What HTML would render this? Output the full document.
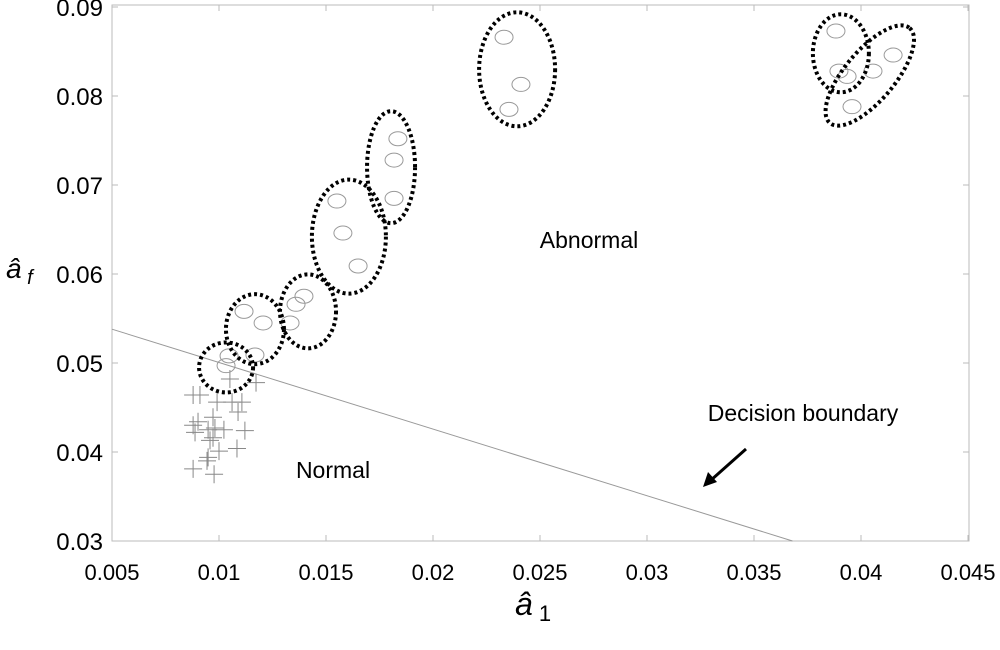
<!DOCTYPE html>
<html><head><meta charset="utf-8"><style>
body{margin:0;background:#fff}
svg{display:block}
text{font-family:"Liberation Sans",sans-serif}
</style></head><body>
<svg id="c" width="1000" height="650"></svg>
<script>
const xTicks=[0.005,0.01,0.015,0.02,0.025,0.03,0.035,0.04,0.045];
const xTickLabels=["0.005","0.01","0.015","0.02","0.025","0.03","0.035","0.04","0.045"];
const yTicks=[0.03,0.04,0.05,0.06,0.07,0.08,0.09];
const yTickLabels=["0.03","0.04","0.05","0.06","0.07","0.08","0.09"];
const normalX=[0.00879,0.00911,0.00991,0.01061,0.01107,0.01089,0.00972,0.00879,0.00902,0.00949,0.00981,0.01023,0.01121,0.00888,0.00958,0.00972,0.01084,0.01000,0.00949,0.00944,0.00879,0.00977,0.01051,0.01173];
const normalY=[0.0464,0.0464,0.0456,0.0456,0.0456,0.0445,0.0439,0.0430,0.0434,0.0425,0.0427,0.0425,0.0424,0.0422,0.0413,0.0416,0.0404,0.0401,0.0394,0.0390,0.0381,0.0375,0.0482,0.0478];
const abnormalX=[0.01047,0.01033,0.01117,0.01206,0.01168,0.01332,0.0136,0.01397,0.01551,0.01579,0.0165,0.01836,0.01818,0.01818,0.02332,0.02411,0.02355,0.03883,0.03897,0.03935,0.04056,0.0415,0.03958];
const abnormalY=[0.0508,0.0497,0.0558,0.0545,0.0509,0.0545,0.0566,0.0575,0.0682,0.0646,0.0609,0.0752,0.0728,0.0685,0.0866,0.0813,0.0785,0.0873,0.0828,0.0822,0.0828,0.0846,0.0788];
const groupX=[0.01033,0.01168,0.01416,0.01607,0.01804,0.02393,0.03906,0.04041];
const groupY=[0.0495,0.0538,0.0558,0.0642,0.0720,0.0830,0.0848,0.0823];
const groupRx=[27,29,28,37,24,38,28,62];
const groupRy=[25,35,37,57,56,57,39,25];
const groupRot=[0,0,0,0,0,0,0,-50];
const boundaryX=[0.005,0.0368];
const boundaryY=[0.0538,0.03];

const NS="http://www.w3.org/2000/svg",svg=document.getElementById('c');
const sx=v=>112+(v-0.005)/0.005*107;
const sy=v=>541-(v-0.03)/0.01*89;
function el(t,a,p){const e=document.createElementNS(NS,t);for(const k in a)e.setAttribute(k,a[k]);(p||svg).appendChild(e);return e;}
const frame=el('rect',{x:112,y:5,width:857,height:536,fill:'none',stroke:'#bbb','stroke-width':1});


xTicks.forEach((v,i)=>{
  el('line',{x1:sx(v),x2:sx(v),y1:541,y2:535,stroke:'#bbb'});
  el('line',{x1:sx(v),x2:sx(v),y1:5,y2:11,stroke:'#bbb'});
  const t=el('text',{x:sx(v),y:580,'text-anchor':'middle','font-size':22});
  t.textContent=xTickLabels[i];
  
  
});
yTicks.forEach((v,i)=>{
  el('line',{x1:112,x2:118,y1:sy(v),y2:sy(v),stroke:'#bbb'});
  el('line',{x1:969,x2:963,y1:sy(v),y2:sy(v),stroke:'#bbb'});
  const t=el('text',{x:103,y:sy(v)+9,'text-anchor':'end','font-size':24});
  t.textContent=yTickLabels[i];
  
  
});
const bl=el('line',{x1:sx(boundaryX[0]),y1:sy(boundaryY[0]),x2:sx(boundaryX[1]),y2:sy(boundaryY[1]),stroke:'#999','stroke-width':1});


normalX.forEach((v,i)=>{
  const g=el('path',{d:`M${sx(v)-9},${sy(normalY[i])}h18M${sx(v)},${sy(normalY[i])-9}v18`,stroke:'#888','stroke-width':1,fill:'none'});
  
  
});
abnormalX.forEach((v,i)=>{
  const c=el('ellipse',{cx:sx(v),cy:sy(abnormalY[i]),rx:9,ry:7,fill:'none',stroke:'#999','stroke-width':1});
  
  
});
groupX.forEach((v,i)=>{
  const cx=sx(v),cy=sy(groupY[i]);
  const e=el('ellipse',{cx,cy,rx:groupRx[i],ry:groupRy[i],fill:'none',stroke:'#000','stroke-width':4,'stroke-dasharray':'3 3',transform:`rotate(${groupRot[i]} ${cx} ${cy})`});
  
  
});
function label(txt,x,y,name,size){const t=el('text',{x,y,'text-anchor':'middle','font-size':size||23});t.textContent=txt;return t;}
label('Abnormal',589,248,'abnormal-label');
label('Normal',333,478,'normal-label');
label('Decision boundary',803,421,'decision-boundary-label');
const ar=el('g',{});


el('line',{x1:746,y1:449,x2:710,y2:481,stroke:'#000','stroke-width':3},ar);
el('path',{d:'M703,487 L708,472 L717,482 Z',fill:'#000'},ar);
const yl=el('text',{x:6,y:278,'font-size':28,'font-style':'italic','font-family':'Liberation Serif,serif'});
yl.innerHTML='â<tspan font-size="20" dy="6"> f</tspan>';


const xl=el('text',{x:515,y:615,'font-size':32,'font-style':'italic','font-family':'Liberation Serif,serif'});
xl.innerHTML='â<tspan font-size="22" font-style="normal" dy="6"> 1</tspan>';


</script>
</body></html>
